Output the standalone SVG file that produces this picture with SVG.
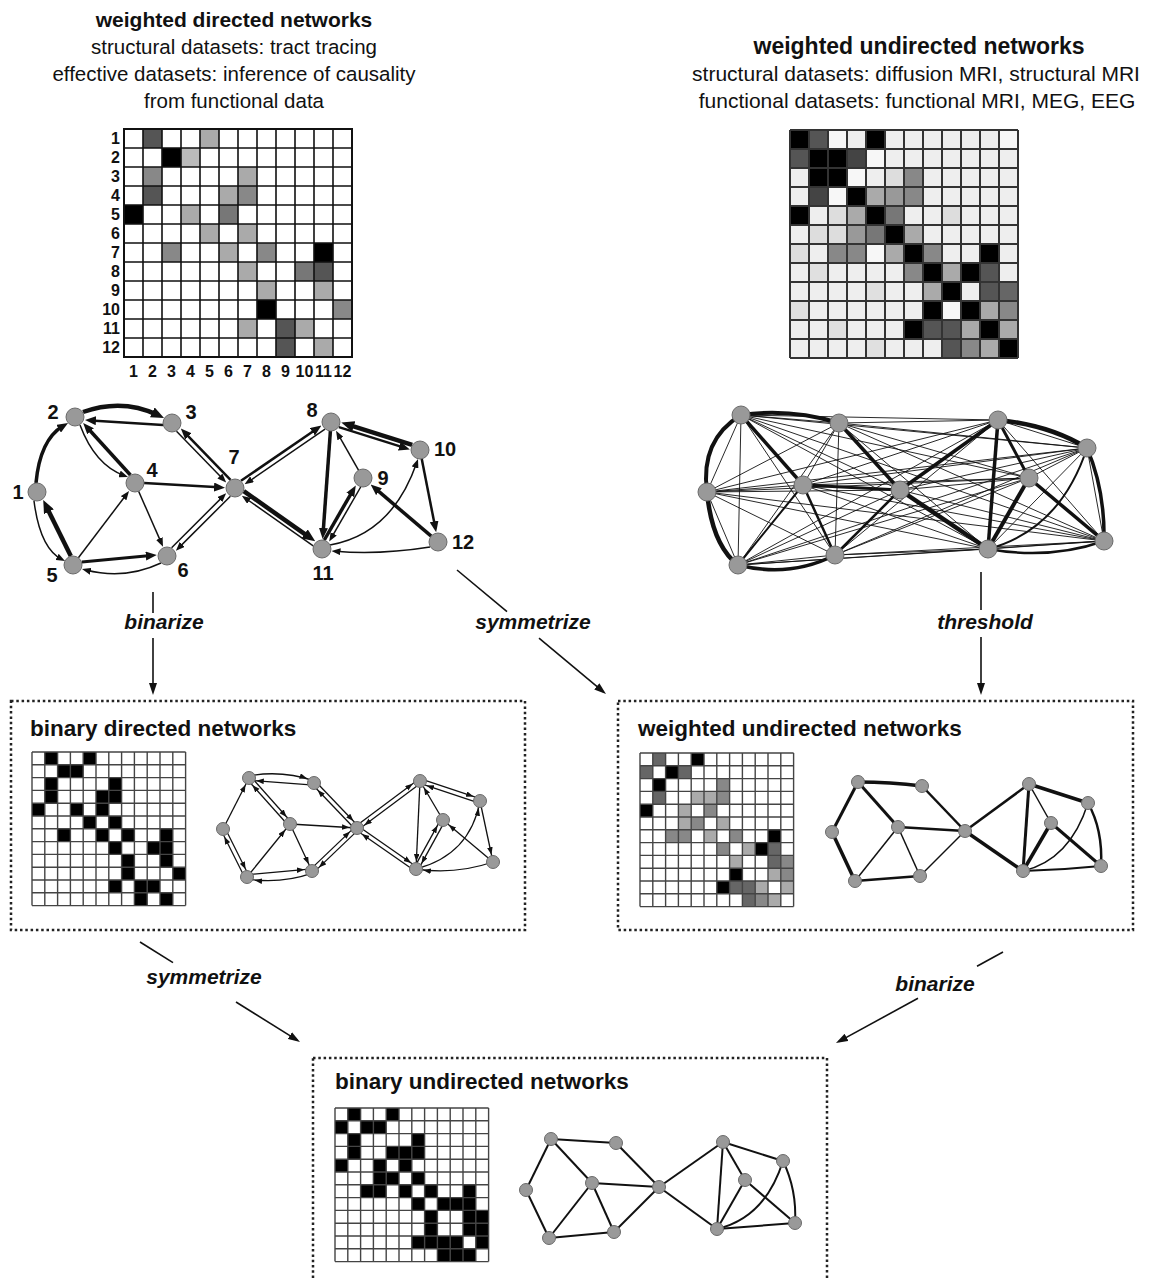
<svg xmlns="http://www.w3.org/2000/svg" width="1155" height="1279" viewBox="0 0 1155 1279">
<style>
text{font-family:"Liberation Sans",Arial,Helvetica,sans-serif;fill:#111}
.tb{font-weight:bold}
.ti{font-weight:bold;font-style:italic}
.nl{font-weight:bold;font-size:20px;text-anchor:middle}
.ml{font-weight:bold;font-size:16px}
.node{fill:#999;stroke:#6a6a6a;stroke-width:1}
.e{fill:none;stroke:#111}
.w1{stroke-width:0.9}
.w15{stroke-width:1.5}
.w2{stroke-width:2}
.w25{stroke-width:2.5}
.w3{stroke-width:3}
.w35{stroke-width:3.5}
.w4{stroke-width:4}
.w45{stroke-width:4.5}
.grid{fill:none}
.box{fill:none;stroke:#222;stroke-width:2.5;stroke-dasharray:2.5 2.8}
</style>
<defs>
<marker id="h1" markerUnits="userSpaceOnUse" markerWidth="9" markerHeight="7" refX="5" refY="3.5" orient="auto"><path d="M0,0L9,3.5L0,7z" fill="#111"/></marker>
<marker id="h2" markerUnits="userSpaceOnUse" markerWidth="11" markerHeight="9" refX="5" refY="4.5" orient="auto"><path d="M0,0L11,4.5L0,9z" fill="#111"/></marker>
<marker id="h3" markerUnits="userSpaceOnUse" markerWidth="13" markerHeight="11" refX="6" refY="5.5" orient="auto"><path d="M0,0L13,5.5L0,11z" fill="#111"/></marker>
<marker id="hb" markerUnits="userSpaceOnUse" markerWidth="15" markerHeight="6" refX="15" refY="2.8" orient="auto"><path d="M0,0L7.5,2.8L0,5.6z" fill="#111"/></marker>
<marker id="ha" markerUnits="userSpaceOnUse" markerWidth="12" markerHeight="9" refX="9" refY="4.5" orient="auto"><path d="M0,0.5L12,4.5L0,8.5z" fill="#111"/></marker>
<path id="grid19" d="M0,0V228M19,0V228M38,0V228M57,0V228M76,0V228M95,0V228M114,0V228M133,0V228M152,0V228M171,0V228M190,0V228M209,0V228M228,0V228M0,0H228M0,19H228M0,38H228M0,57H228M0,76H228M0,95H228M0,114H228M0,133H228M0,152H228M0,171H228M0,190H228M0,209H228M0,228H228"/>
<path id="grid128" d="M0,0V153.6M12.8,0V153.6M25.6,0V153.6M38.4,0V153.6M51.2,0V153.6M64,0V153.6M76.8,0V153.6M89.6,0V153.6M102.4,0V153.6M115.2,0V153.6M128,0V153.6M140.8,0V153.6M153.6,0V153.6M0,0H153.6M0,12.8H153.6M0,25.6H153.6M0,38.4H153.6M0,51.2H153.6M0,64H153.6M0,76.8H153.6M0,89.6H153.6M0,102.4H153.6M0,115.2H153.6M0,128H153.6M0,140.8H153.6M0,153.6H153.6"/>
</defs>
<rect width="1155" height="1279" fill="#fff"/>

<!-- Headings -->
<g id="heading-left">
<text x="234" y="27" class="tb" font-size="21" text-anchor="middle">weighted directed networks</text>
<text x="234" y="54" font-size="20.5" text-anchor="middle">structural datasets: tract tracing</text>
<text x="234" y="81" font-size="20.5" text-anchor="middle">effective datasets: inference of causality</text>
<text x="234" y="108" font-size="20.5" text-anchor="middle">from functional data</text>
</g>
<g id="heading-right">
<text x="919" y="54" class="tb" font-size="23" text-anchor="middle">weighted undirected networks</text>
<text x="916" y="81" font-size="21" text-anchor="middle">structural datasets: diffusion MRI, structural MRI</text>
<text x="917" y="108" font-size="21" text-anchor="middle">functional datasets: functional MRI, MEG, EEG</text>
</g>

<!-- Top-left matrix -->
<g id="matrix-wd">
<g transform="translate(124,129) scale(19)">
<rect x="0" y="0" width="12" height="12" fill="#fff"/>
<rect x="1" y="0" width="1" height="1" fill="#555"/><rect x="4" y="0" width="1" height="1" fill="#aaa"/>
<rect x="2" y="1" width="1" height="1" fill="#000"/><rect x="3" y="1" width="1" height="1" fill="#bbb"/>
<rect x="1" y="2" width="1" height="1" fill="#888"/><rect x="6" y="2" width="1" height="1" fill="#aaa"/>
<rect x="1" y="3" width="1" height="1" fill="#555"/><rect x="5" y="3" width="1" height="1" fill="#aaa"/><rect x="6" y="3" width="1" height="1" fill="#888"/>
<rect x="0" y="4" width="1" height="1" fill="#000"/><rect x="3" y="4" width="1" height="1" fill="#aaa"/><rect x="5" y="4" width="1" height="1" fill="#777"/>
<rect x="4" y="5" width="1" height="1" fill="#aaa"/><rect x="6" y="5" width="1" height="1" fill="#aaa"/>
<rect x="2" y="6" width="1" height="1" fill="#888"/><rect x="5" y="6" width="1" height="1" fill="#aaa"/><rect x="7" y="6" width="1" height="1" fill="#888"/><rect x="10" y="6" width="1" height="1" fill="#000"/>
<rect x="6" y="7" width="1" height="1" fill="#aaa"/><rect x="9" y="7" width="1" height="1" fill="#777"/><rect x="10" y="7" width="1" height="1" fill="#555"/>
<rect x="7" y="8" width="1" height="1" fill="#aaa"/><rect x="10" y="8" width="1" height="1" fill="#aaa"/>
<rect x="7" y="9" width="1" height="1" fill="#000"/><rect x="11" y="9" width="1" height="1" fill="#888"/>
<rect x="6" y="10" width="1" height="1" fill="#aaa"/><rect x="8" y="10" width="1" height="1" fill="#555"/><rect x="9" y="10" width="1" height="1" fill="#aaa"/>
<rect x="8" y="11" width="1" height="1" fill="#555"/><rect x="10" y="11" width="1" height="1" fill="#aaa"/>
</g>
<use href="#grid19" transform="translate(124,129)" class="grid" stroke="#111" stroke-width="1.6"/>
<path d="M124,129H352V357H124Z" fill="none" stroke="#111" stroke-width="2"/>
<g class="ml" text-anchor="end">
<text x="120" y="144">1</text><text x="120" y="163">2</text><text x="120" y="182">3</text><text x="120" y="201">4</text><text x="120" y="220">5</text><text x="120" y="239">6</text><text x="120" y="258">7</text><text x="120" y="277">8</text><text x="120" y="296">9</text><text x="120" y="315">10</text><text x="120" y="334">11</text><text x="120" y="353">12</text>
</g>
<g class="ml" text-anchor="middle">
<text x="133.5" y="377">1</text><text x="152.5" y="377">2</text><text x="171.5" y="377">3</text><text x="190.5" y="377">4</text><text x="209.5" y="377">5</text><text x="228.5" y="377">6</text><text x="247.5" y="377">7</text><text x="266.5" y="377">8</text><text x="285.5" y="377">9</text><text x="304.5" y="377">10</text><text x="323.5" y="377">11</text><text x="342.5" y="377">12</text>
</g>
</g>

<!-- Top-right matrix -->
<g id="matrix-wu">
<g transform="translate(790,130) scale(19)">
<rect x="0" y="0" width="12" height="12" fill="#eee"/>
<rect x="0" y="0" width="1" height="1" fill="#000"/><rect x="1" y="0" width="1" height="1" fill="#555"/><rect x="4" y="0" width="1" height="1" fill="#000"/><rect x="2" y="0" width="1" height="1" fill="#f7f7f7"/><rect x="11" y="0" width="1" height="1" fill="#f7f7f7"/>
<rect x="0" y="1" width="1" height="1" fill="#555"/><rect x="1" y="1" width="1" height="1" fill="#000"/><rect x="2" y="1" width="1" height="1" fill="#000"/><rect x="3" y="1" width="1" height="1" fill="#444"/><rect x="4" y="1" width="1" height="1" fill="#f7f7f7"/>
<rect x="1" y="2" width="1" height="1" fill="#000"/><rect x="2" y="2" width="1" height="1" fill="#000"/><rect x="5" y="2" width="1" height="1" fill="#ddd"/><rect x="6" y="2" width="1" height="1" fill="#888"/><rect x="3" y="2" width="1" height="1" fill="#f7f7f7"/>
<rect x="1" y="3" width="1" height="1" fill="#444"/><rect x="3" y="3" width="1" height="1" fill="#000"/><rect x="4" y="3" width="1" height="1" fill="#aaa"/><rect x="5" y="3" width="1" height="1" fill="#999"/><rect x="6" y="3" width="1" height="1" fill="#888"/><rect x="2" y="3" width="1" height="1" fill="#f7f7f7"/>
<rect x="0" y="4" width="1" height="1" fill="#000"/><rect x="2" y="4" width="1" height="1" fill="#ddd"/><rect x="3" y="4" width="1" height="1" fill="#aaa"/><rect x="4" y="4" width="1" height="1" fill="#000"/><rect x="5" y="4" width="1" height="1" fill="#777"/><rect x="8" y="4" width="1" height="1" fill="#ddd"/>
<rect x="1" y="5" width="1" height="1" fill="#ddd"/><rect x="2" y="5" width="1" height="1" fill="#ddd"/><rect x="3" y="5" width="1" height="1" fill="#999"/><rect x="4" y="5" width="1" height="1" fill="#777"/><rect x="5" y="5" width="1" height="1" fill="#000"/><rect x="6" y="5" width="1" height="1" fill="#aaa"/>
<rect x="0" y="6" width="1" height="1" fill="#ddd"/><rect x="2" y="6" width="1" height="1" fill="#888"/><rect x="3" y="6" width="1" height="1" fill="#888"/><rect x="5" y="6" width="1" height="1" fill="#aaa"/><rect x="6" y="6" width="1" height="1" fill="#000"/><rect x="7" y="6" width="1" height="1" fill="#888"/><rect x="10" y="6" width="1" height="1" fill="#000"/><rect x="4" y="6" width="1" height="1" fill="#f7f7f7"/>
<rect x="1" y="7" width="1" height="1" fill="#e0e0e0"/><rect x="6" y="7" width="1" height="1" fill="#888"/><rect x="7" y="7" width="1" height="1" fill="#000"/><rect x="8" y="7" width="1" height="1" fill="#aaa"/><rect x="9" y="7" width="1" height="1" fill="#000"/><rect x="10" y="7" width="1" height="1" fill="#555"/>
<rect x="4" y="8" width="1" height="1" fill="#e0e0e0"/><rect x="7" y="8" width="1" height="1" fill="#aaa"/><rect x="8" y="8" width="1" height="1" fill="#000"/><rect x="10" y="8" width="1" height="1" fill="#555"/><rect x="11" y="8" width="1" height="1" fill="#666"/>
<rect x="0" y="9" width="1" height="1" fill="#e0e0e0"/><rect x="7" y="9" width="1" height="1" fill="#000"/><rect x="9" y="9" width="1" height="1" fill="#000"/><rect x="10" y="9" width="1" height="1" fill="#aaa"/><rect x="11" y="9" width="1" height="1" fill="#888"/><rect x="8" y="9" width="1" height="1" fill="#f7f7f7"/>
<rect x="2" y="10" width="1" height="1" fill="#e0e0e0"/><rect x="6" y="10" width="1" height="1" fill="#000"/><rect x="7" y="10" width="1" height="1" fill="#555"/><rect x="8" y="10" width="1" height="1" fill="#555"/><rect x="9" y="10" width="1" height="1" fill="#aaa"/><rect x="10" y="10" width="1" height="1" fill="#000"/><rect x="11" y="10" width="1" height="1" fill="#aaa"/>
<rect x="4" y="11" width="1" height="1" fill="#e0e0e0"/><rect x="8" y="11" width="1" height="1" fill="#555"/><rect x="9" y="11" width="1" height="1" fill="#888"/><rect x="10" y="11" width="1" height="1" fill="#aaa"/><rect x="11" y="11" width="1" height="1" fill="#000"/>
</g>
<use href="#grid19" transform="translate(790,130)" class="grid" stroke="#333" stroke-width="2"/>
</g>

<!-- Top-left directed network connectors -->
<g id="wd-edges">
<path class="e w45" d="M83,412Q122,398 157.7,414.9" marker-end="url(#h3)"/>
<path class="e w25" d="M163,425L91,420.4" marker-end="url(#h2)"/>
<path class="e w35" d="M36,483Q40,440 62.9,426.1" marker-end="url(#h2)"/>
<path class="e w45" d="M70.8,556L46.3,506.4" marker-end="url(#h3)"/>
<path class="e w15" d="M34,501Q40,548 61.5,559.2" marker-end="url(#h1)"/>
<path class="e w15" d="M80,425Q95,465 124.2,475.6" marker-end="url(#h1)"/>
<path class="e w35" d="M130.4,475L87.2,427.5" marker-end="url(#h2)"/>
<path class="e w25" d="M144,483.1L219,487.3" marker-end="url(#h2)"/>
<path class="e w15" d="M138.6,491.2L161.4,543.1" marker-end="url(#h1)"/>
<path class="e w15" d="M78.4,557.8L126.6,494.2" marker-end="url(#h1)"/>
<path class="e w3" d="M81.8,562L150.8,555.6" marker-end="url(#h2)"/>
<path class="e w15" d="M161,563Q125,580 85.9,570" marker-end="url(#h1)"/>
<path class="e w15" d="M176.5,431.2L223.4,479.6" marker-end="url(#h1)"/>
<path class="e w25" d="M230.5,479.8L185,432.8" marker-end="url(#h2)"/>
<path class="e w15" d="M171.6,547.8L223.3,496.1" marker-end="url(#h1)"/>
<path class="e w15" d="M230.4,496.2L178.7,547.9" marker-end="url(#h1)"/>
<path class="e w25" d="M241,480.8L316.5,429" marker-end="url(#h2)"/>
<path class="e w15" d="M325,429.2L247.9,482.1" marker-end="url(#h1)"/>
<path class="e w45" d="M243.8,491.2L309.5,537.3" marker-end="url(#h3)"/>
<path class="e w15" d="M313.2,545.8L245.1,498" marker-end="url(#h1)"/>
<path class="e w45" d="M412.2,444.9L348,424.7" marker-end="url(#h3)"/>
<path class="e w25" d="M338.9,427.1L404.1,447.6" marker-end="url(#h2)"/>
<path class="e w35" d="M330.4,431L323.1,533" marker-end="url(#h2)"/>
<path class="e w15" d="M358.5,470.2L338,434.2" marker-end="url(#h1)"/>
<path class="e w35" d="M324.3,540L352.8,490.6" marker-end="url(#h2)"/>
<path class="e w15" d="M360.7,487L331.2,538.1" marker-end="url(#h1)"/>
<path class="e w35" d="M431.2,536.2L375.2,488.4" marker-end="url(#h2)"/>
<path class="e w25" d="M421.7,458.8L435,526.3" marker-end="url(#h2)"/>
<path class="e w15" d="M430,547Q380,555 335.5,551.3" marker-end="url(#h1)"/>
<path class="e w15" d="M330,545Q392,534 416.7,462.8" marker-end="url(#h1)"/>
</g>
<g id="wd-nodes">
<g id="wd-n1"><circle class="node" cx="37" cy="492" r="9"/><text class="nl" x="18" y="499">1</text></g>
<g id="wd-n2"><circle class="node" cx="75" cy="417" r="9"/><text class="nl" x="53" y="419">2</text></g>
<g id="wd-n3"><circle class="node" cx="172" cy="423" r="9"/><text class="nl" x="191" y="419">3</text></g>
<g id="wd-n4"><circle class="node" cx="135" cy="483" r="9"/><text class="nl" x="152" y="477">4</text></g>
<g id="wd-n5"><circle class="node" cx="73" cy="565" r="9"/><text class="nl" x="52" y="582">5</text></g>
<g id="wd-n6"><circle class="node" cx="167" cy="556" r="9"/><text class="nl" x="183" y="577">6</text></g>
<g id="wd-n7"><circle class="node" cx="235" cy="488" r="9"/><text class="nl" x="234" y="464">7</text></g>
<g id="wd-n8"><circle class="node" cx="331" cy="422" r="9"/><text class="nl" x="312" y="417">8</text></g>
<g id="wd-n9"><circle class="node" cx="363" cy="478" r="9"/><text class="nl" x="383" y="485">9</text></g>
<g id="wd-n10"><circle class="node" cx="420" cy="450" r="9"/><text class="nl" x="445" y="456">10</text></g>
<g id="wd-n11"><circle class="node" cx="322" cy="549" r="9"/><text class="nl" x="323" y="580">11</text></g>
<g id="wd-n12"><circle class="node" cx="438" cy="542" r="9"/><text class="nl" x="463" y="549">12</text></g>
</g>

<!-- Top-right weighted undirected network -->
<g id="wu-edges">
<path class="e w1" d="M741,415L839,423M741,415L707,492M741,415L803,485M741,415L900,490M741,415L738,565M741,415L835,555M741,415L998,420M741,415L1087,448M741,415L1029,478M741,415L988,549M741,415L1104,541M839,423L707,492M839,423L803,485M839,423L900,490M839,423L738,565M839,423L835,555M839,423L998,420M839,423L1087,448M839,423L1029,478M839,423L988,549M839,423L1104,541M707,492L803,485M707,492L900,490M707,492L738,565M707,492L835,555M707,492L998,420M707,492L1087,448M707,492L1029,478M707,492L988,549M707,492L1104,541M803,485L900,490M803,485L738,565M803,485L835,555M803,485L998,420M803,485L1087,448M803,485L1029,478M803,485L988,549M803,485L1104,541M900,490L738,565M900,490L835,555M900,490L998,420M900,490L1087,448M900,490L1029,478M900,490L988,549M900,490L1104,541M738,565L835,555M738,565L998,420M738,565L1087,448M738,565L1029,478M738,565L988,549M738,565L1104,541M835,555L998,420M835,555L1087,448M835,555L1029,478M835,555L988,549M835,555L1104,541M998,420L1087,448M998,420L1029,478M998,420L988,549M998,420L1104,541M1087,448L1029,478M1087,448L988,549M1087,448L1104,541M1029,478L988,549M1029,478L1104,541M988,549L1104,541"/>
<path class="e w4" d="M741,415Q790,408 839,423"/>
<path class="e w4" d="M741,415Q700,440 707,492"/>
<path class="e w45" d="M707,492Q712,545 738,565"/>
<path class="e w35" d="M738,565Q790,578 835,555"/>
<path class="e w35" d="M741,415L803,485"/>
<path class="e w35" d="M839,423L900,490"/>
<path class="e w3" d="M803,485L900,490"/>
<path class="e w2" d="M803,485L738,565"/>
<path class="e w25" d="M803,485L835,555"/>
<path class="e w25" d="M900,490L835,555"/>
<path class="e w35" d="M900,490L998,420"/>
<path class="e w45" d="M900,490L988,549"/>
<path class="e w45" d="M998,420Q1050,425 1087,448"/>
<path class="e w35" d="M998,420L988,549"/>
<path class="e w3" d="M998,420L1029,478"/>
<path class="e w4" d="M1029,478L988,549"/>
<path class="e w35" d="M1029,478L1104,541"/>
<path class="e w35" d="M1087,448Q1105,490 1104,541"/>
<path class="e w25" d="M988,549Q1050,560 1104,541"/>
<path class="e w2" d="M1087,448Q1060,530 988,549"/>
</g>
<g id="wu-nodes">
<circle id="wu-n2" class="node" cx="741" cy="415" r="9"/>
<circle id="wu-n3" class="node" cx="839" cy="423" r="9"/>
<circle id="wu-n1" class="node" cx="707" cy="492" r="9"/>
<circle id="wu-n4" class="node" cx="803" cy="485" r="9"/>
<circle id="wu-n7" class="node" cx="900" cy="490" r="9"/>
<circle id="wu-n5" class="node" cx="738" cy="565" r="9"/>
<circle id="wu-n6" class="node" cx="835" cy="555" r="9"/>
<circle id="wu-n8" class="node" cx="998" cy="420" r="9"/>
<circle id="wu-n10" class="node" cx="1087" cy="448" r="9"/>
<circle id="wu-n9" class="node" cx="1029" cy="478" r="9"/>
<circle id="wu-n11" class="node" cx="988" cy="549" r="9"/>
<circle id="wu-n12" class="node" cx="1104" cy="541" r="9"/>
</g>

<!-- Transformation arrows -->
<g id="transform-arrows">
<path class="e" stroke-width="1.6" d="M153,592V613"/>
<path class="e" stroke-width="1.6" d="M153,638V692" marker-end="url(#ha)"/>
<path class="e" stroke-width="1.6" d="M457,570L507,611.6"/>
<path class="e" stroke-width="1.6" d="M539,638.2L603.7,692.1" marker-end="url(#ha)"/>
<path class="e" stroke-width="1.6" d="M981,572V610"/>
<path class="e" stroke-width="1.6" d="M981,637V692" marker-end="url(#ha)"/>
<path class="e" stroke-width="1.6" d="M140,942L173,962.6"/>
<path class="e" stroke-width="1.6" d="M236,1002L297.5,1040.4" marker-end="url(#ha)"/>
<path class="e" stroke-width="1.6" d="M1003,952L977,966.2"/>
<path class="e" stroke-width="1.6" d="M918,998.3L838.6,1041.6" marker-end="url(#ha)"/>
</g>
<g id="transform-labels" font-size="21">
<text class="ti" x="164" y="629" text-anchor="middle">binarize</text>
<text class="ti" x="533" y="629" text-anchor="middle">symmetrize</text>
<text class="ti" x="985" y="629" text-anchor="middle">threshold</text>
<text class="ti" x="204" y="984" text-anchor="middle">symmetrize</text>
<text class="ti" x="935" y="991" text-anchor="middle">binarize</text>
</g>

<!-- Box 1: binary directed -->
<g id="box-bd">
<rect class="box" x="11" y="701" width="514" height="229"/>
<text class="tb" x="30" y="736" font-size="22.5">binary directed networks</text>
<g transform="translate(32,752) scale(12.8)">
<rect x="0" y="0" width="12" height="12" fill="#fff"/>
<g fill="#000">
<rect x="1" y="0" width="1" height="1"/><rect x="4" y="0" width="1" height="1"/>
<rect x="2" y="1" width="1" height="1"/><rect x="3" y="1" width="1" height="1"/>
<rect x="1" y="2" width="1" height="1"/><rect x="6" y="2" width="1" height="1"/>
<rect x="1" y="3" width="1" height="1"/><rect x="5" y="3" width="1" height="1"/><rect x="6" y="3" width="1" height="1"/>
<rect x="0" y="4" width="1" height="1"/><rect x="3" y="4" width="1" height="1"/><rect x="5" y="4" width="1" height="1"/>
<rect x="4" y="5" width="1" height="1"/><rect x="6" y="5" width="1" height="1"/>
<rect x="2" y="6" width="1" height="1"/><rect x="5" y="6" width="1" height="1"/><rect x="7" y="6" width="1" height="1"/><rect x="10" y="6" width="1" height="1"/>
<rect x="6" y="7" width="1" height="1"/><rect x="9" y="7" width="1" height="1"/><rect x="10" y="7" width="1" height="1"/>
<rect x="7" y="8" width="1" height="1"/><rect x="10" y="8" width="1" height="1"/>
<rect x="7" y="9" width="1" height="1"/><rect x="11" y="9" width="1" height="1"/>
<rect x="6" y="10" width="1" height="1"/><rect x="8" y="10" width="1" height="1"/><rect x="9" y="10" width="1" height="1"/>
<rect x="8" y="11" width="1" height="1"/><rect x="10" y="11" width="1" height="1"/>
</g>
</g>
<use href="#grid128" transform="translate(32,752)" class="grid" stroke="#444" stroke-width="1.4"/>
</g>
<g id="bd-edges">
<g class="e" stroke-width="1.3" marker-end="url(#hb)">
<path d="M223,829L249,778"/>
<path d="M225,828L249,876"/>
<path d="M245,878L221,830"/>
<path d="M249.2,775.8Q282,770 314.2,780.8"/>
<path d="M313.8,785.2L248.8,780.2"/>
<path d="M250.6,776.5L291.6,822.5"/>
<path d="M288.4,825.5L247.4,779.5"/>
<path d="M315.6,781.5L358.6,826.5"/>
<path d="M355.4,829.5L312.4,784.5"/>
<path d="M290,824L312,871"/>
<path d="M290,824L357,828"/>
<path d="M247,877L290,824"/>
<path d="M246.8,874.8L311.8,868.8"/>
<path d="M312.2,873.2Q282,884 247.2,879.2"/>
<path d="M310.5,869.4L355.5,826.4"/>
<path d="M358.5,829.6L313.5,872.6"/>
<path d="M355.7,826.2L418.7,779.2"/>
<path d="M421.3,782.8L358.3,829.8"/>
<path d="M358.3,826.2L417.3,867.2"/>
<path d="M414.7,870.8L355.7,829.8"/>
<path d="M420.7,778.9L480.7,798.9"/>
<path d="M479.3,803.1L419.3,783.1"/>
<path d="M420,781L416,869"/>
<path d="M443,820L420,781"/>
<path d="M444.9,821.1L417.9,870.1"/>
<path d="M414.1,867.9L441.1,818.9"/>
<path d="M480,801L493,862"/>
<path d="M493,862L443,820"/>
<path d="M493,862Q455,875 416,869"/>
<path d="M416,869Q470,855 480,801"/>
</g>
</g>
<g id="bd-nodes">
<circle id="bd-n1" class="node" cx="223" cy="829" r="6.5"/>
<circle id="bd-n2" class="node" cx="249" cy="778" r="6.5"/>
<circle id="bd-n3" class="node" cx="314" cy="783" r="6.5"/>
<circle id="bd-n4" class="node" cx="290" cy="824" r="6.5"/>
<circle id="bd-n5" class="node" cx="247" cy="877" r="6.5"/>
<circle id="bd-n6" class="node" cx="312" cy="871" r="6.5"/>
<circle id="bd-n7" class="node" cx="357" cy="828" r="6.5"/>
<circle id="bd-n8" class="node" cx="420" cy="781" r="6.5"/>
<circle id="bd-n9" class="node" cx="443" cy="820" r="6.5"/>
<circle id="bd-n10" class="node" cx="480" cy="801" r="6.5"/>
<circle id="bd-n11" class="node" cx="416" cy="869" r="6.5"/>
<circle id="bd-n12" class="node" cx="493" cy="862" r="6.5"/>
</g>

<!-- Box 2: weighted undirected -->
<g id="box-wu">
<rect class="box" x="618" y="701" width="515" height="229"/>
<text class="tb" x="638" y="736" font-size="22.5">weighted undirected networks</text>
<g transform="translate(640,753) scale(12.8)">
<rect x="0" y="0" width="12" height="12" fill="#fff"/>
<rect x="1" y="0" width="1" height="1" fill="#666"/><rect x="4" y="0" width="1" height="1" fill="#000"/>
<rect x="0" y="1" width="1" height="1" fill="#666"/><rect x="2" y="1" width="1" height="1" fill="#000"/><rect x="3" y="1" width="1" height="1" fill="#666"/>
<rect x="1" y="2" width="1" height="1" fill="#000"/><rect x="6" y="2" width="1" height="1" fill="#888"/>
<rect x="1" y="3" width="1" height="1" fill="#666"/><rect x="4" y="3" width="1" height="1" fill="#aaa"/><rect x="5" y="3" width="1" height="1" fill="#aaa"/><rect x="6" y="3" width="1" height="1" fill="#888"/>
<rect x="0" y="4" width="1" height="1" fill="#000"/><rect x="3" y="4" width="1" height="1" fill="#aaa"/><rect x="5" y="4" width="1" height="1" fill="#888"/>
<rect x="3" y="5" width="1" height="1" fill="#aaa"/><rect x="4" y="5" width="1" height="1" fill="#888"/><rect x="6" y="5" width="1" height="1" fill="#aaa"/>
<rect x="2" y="6" width="1" height="1" fill="#888"/><rect x="3" y="6" width="1" height="1" fill="#888"/><rect x="5" y="6" width="1" height="1" fill="#aaa"/><rect x="7" y="6" width="1" height="1" fill="#888"/><rect x="10" y="6" width="1" height="1" fill="#000"/>
<rect x="6" y="7" width="1" height="1" fill="#888"/><rect x="8" y="7" width="1" height="1" fill="#aaa"/><rect x="9" y="7" width="1" height="1" fill="#000"/><rect x="10" y="7" width="1" height="1" fill="#666"/>
<rect x="7" y="8" width="1" height="1" fill="#aaa"/><rect x="10" y="8" width="1" height="1" fill="#666"/><rect x="11" y="8" width="1" height="1" fill="#888"/>
<rect x="7" y="9" width="1" height="1" fill="#000"/><rect x="10" y="9" width="1" height="1" fill="#aaa"/><rect x="11" y="9" width="1" height="1" fill="#888"/>
<rect x="6" y="10" width="1" height="1" fill="#000"/><rect x="7" y="10" width="1" height="1" fill="#666"/><rect x="8" y="10" width="1" height="1" fill="#666"/><rect x="9" y="10" width="1" height="1" fill="#aaa"/><rect x="11" y="10" width="1" height="1" fill="#aaa"/>
<rect x="8" y="11" width="1" height="1" fill="#666"/><rect x="9" y="11" width="1" height="1" fill="#888"/><rect x="10" y="11" width="1" height="1" fill="#aaa"/>
</g>
<use href="#grid128" transform="translate(640,753)" class="grid" stroke="#444" stroke-width="1.4"/>
</g>
<g id="wub-edges">
<path class="e w35" d="M858,782Q890,782 922,786"/>
<path class="e w3" d="M858,782L832,832"/>
<path class="e w35" d="M832,832L855,881"/>
<path class="e w25" d="M855,881L920,876"/>
<path class="e w3" d="M858,782L898,827"/>
<path class="e w25" d="M898,827L965,831"/>
<path class="e w25" d="M922,786L965,831"/>
<path class="e w15" d="M898,827L855,881"/>
<path class="e w15" d="M898,827L920,876"/>
<path class="e w15" d="M920,876L965,831"/>
<path class="e w25" d="M965,831L1029,784"/>
<path class="e w35" d="M965,831L1023,871"/>
<path class="e w35" d="M1029,784L1088,803"/>
<path class="e w3" d="M1029,784L1023,871"/>
<path class="e w15" d="M1029,784L1051,823"/>
<path class="e w35" d="M1051,823L1023,871"/>
<path class="e w3" d="M1051,823L1101,866"/>
<path class="e w25" d="M1088,803Q1103,830 1101,866"/>
<path class="e w15" d="M1088,803Q1070,860 1023,871"/>
<path class="e w2" d="M1023,871Q1062,870 1101,866"/>
</g>
<g id="wub-nodes">
<circle id="wub-n1" class="node" cx="832" cy="832" r="6.5"/>
<circle id="wub-n2" class="node" cx="858" cy="782" r="6.5"/>
<circle id="wub-n3" class="node" cx="922" cy="786" r="6.5"/>
<circle id="wub-n4" class="node" cx="898" cy="827" r="6.5"/>
<circle id="wub-n5" class="node" cx="855" cy="881" r="6.5"/>
<circle id="wub-n6" class="node" cx="920" cy="876" r="6.5"/>
<circle id="wub-n7" class="node" cx="965" cy="831" r="6.5"/>
<circle id="wub-n8" class="node" cx="1029" cy="784" r="6.5"/>
<circle id="wub-n9" class="node" cx="1051" cy="823" r="6.5"/>
<circle id="wub-n10" class="node" cx="1088" cy="803" r="6.5"/>
<circle id="wub-n11" class="node" cx="1023" cy="871" r="6.5"/>
<circle id="wub-n12" class="node" cx="1101" cy="866" r="6.5"/>
</g>

<!-- Box 3: binary undirected -->
<g id="box-bu">
<rect class="box" x="313" y="1058" width="514" height="240"/>
<text class="tb" x="335" y="1089" font-size="22.5">binary undirected networks</text>
<g transform="translate(335,1108) scale(12.8)">
<rect x="0" y="0" width="12" height="12" fill="#fff"/>
<g fill="#000">
<rect x="1" y="0" width="1" height="1"/><rect x="4" y="0" width="1" height="1"/>
<rect x="0" y="1" width="1" height="1"/><rect x="2" y="1" width="1" height="1"/><rect x="3" y="1" width="1" height="1"/>
<rect x="1" y="2" width="1" height="1"/><rect x="6" y="2" width="1" height="1"/>
<rect x="1" y="3" width="1" height="1"/><rect x="4" y="3" width="1" height="1"/><rect x="5" y="3" width="1" height="1"/><rect x="6" y="3" width="1" height="1"/>
<rect x="0" y="4" width="1" height="1"/><rect x="3" y="4" width="1" height="1"/><rect x="5" y="4" width="1" height="1"/>
<rect x="3" y="5" width="1" height="1"/><rect x="4" y="5" width="1" height="1"/><rect x="6" y="5" width="1" height="1"/>
<rect x="2" y="6" width="1" height="1"/><rect x="3" y="6" width="1" height="1"/><rect x="5" y="6" width="1" height="1"/><rect x="7" y="6" width="1" height="1"/><rect x="10" y="6" width="1" height="1"/>
<rect x="6" y="7" width="1" height="1"/><rect x="8" y="7" width="1" height="1"/><rect x="9" y="7" width="1" height="1"/><rect x="10" y="7" width="1" height="1"/>
<rect x="7" y="8" width="1" height="1"/><rect x="10" y="8" width="1" height="1"/><rect x="11" y="8" width="1" height="1"/>
<rect x="7" y="9" width="1" height="1"/><rect x="10" y="9" width="1" height="1"/><rect x="11" y="9" width="1" height="1"/>
<rect x="6" y="10" width="1" height="1"/><rect x="7" y="10" width="1" height="1"/><rect x="8" y="10" width="1" height="1"/><rect x="9" y="10" width="1" height="1"/><rect x="11" y="10" width="1" height="1"/>
<rect x="8" y="11" width="1" height="1"/><rect x="9" y="11" width="1" height="1"/><rect x="10" y="11" width="1" height="1"/>
</g>
</g>
<use href="#grid128" transform="translate(335,1108)" class="grid" stroke="#444" stroke-width="1.4"/>
</g>
<g id="bu-edges">
<g class="e" stroke-width="2">
<path d="M551,1139L616,1143"/>
<path d="M551,1139L526,1190"/>
<path d="M526,1190L549,1238"/>
<path d="M549,1238L614,1232"/>
<path d="M551,1139L592,1183"/>
<path d="M592,1183L659,1187"/>
<path d="M616,1143L659,1187"/>
<path d="M592,1183L549,1238"/>
<path d="M592,1183L614,1232"/>
<path d="M614,1232L659,1187"/>
<path d="M659,1187L723,1142"/>
<path d="M659,1187L717,1229"/>
<path d="M723,1142L783,1161"/>
<path d="M723,1142L717,1229"/>
<path d="M723,1142L745,1180"/>
<path d="M745,1180L717,1229"/>
<path d="M745,1180L795,1223"/>
<path d="M783,1161Q797,1190 795,1223"/>
<path d="M783,1161Q765,1218 717,1229"/>
<path d="M717,1229L795,1223"/>
</g>
</g>
<g id="bu-nodes">
<circle id="bu-n1" class="node" cx="526" cy="1190" r="6.5"/>
<circle id="bu-n2" class="node" cx="551" cy="1139" r="6.5"/>
<circle id="bu-n3" class="node" cx="616" cy="1143" r="6.5"/>
<circle id="bu-n4" class="node" cx="592" cy="1183" r="6.5"/>
<circle id="bu-n5" class="node" cx="549" cy="1238" r="6.5"/>
<circle id="bu-n6" class="node" cx="614" cy="1232" r="6.5"/>
<circle id="bu-n7" class="node" cx="659" cy="1187" r="6.5"/>
<circle id="bu-n8" class="node" cx="723" cy="1142" r="6.5"/>
<circle id="bu-n9" class="node" cx="745" cy="1180" r="6.5"/>
<circle id="bu-n10" class="node" cx="783" cy="1161" r="6.5"/>
<circle id="bu-n11" class="node" cx="717" cy="1229" r="6.5"/>
<circle id="bu-n12" class="node" cx="795" cy="1223" r="6.5"/>
</g>
</svg>
